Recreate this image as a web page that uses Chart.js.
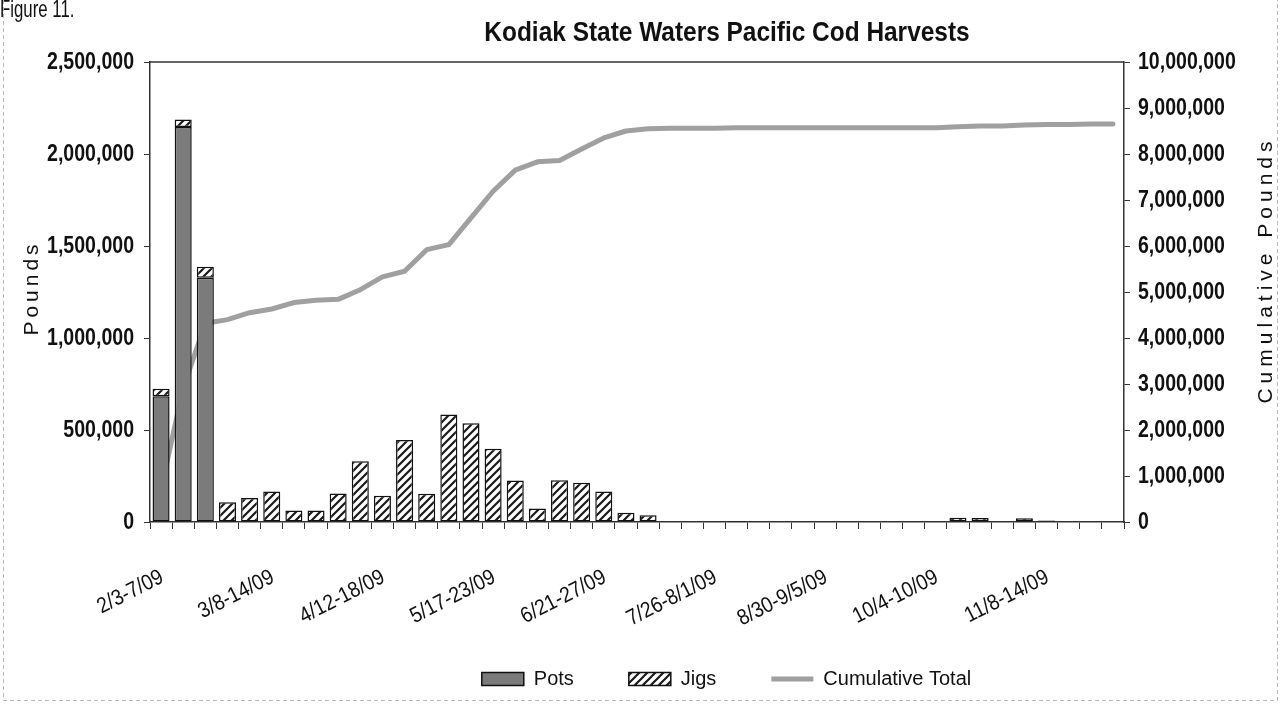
<!DOCTYPE html>
<html>
<head>
<meta charset="utf-8">
<title>Kodiak State Waters Pacific Cod Harvests</title>
<script src="https://cdn.jsdelivr.net/npm/chart.js@4.4.1/dist/chart.umd.min.js"></script>
<style>
  html, body { margin: 0; padding: 0; background: #fff; }
  #wrap { width: 1283px; height: 704px; }
</style>
</head>
<body>
<div id="wrap"><canvas id="harvest" width="1283" height="704"></canvas></div>
<script>
const weeks = [
  "2/3-7/09", "2/8-14/09", "2/15-21/09", "2/22-28/09", "3/1-7/09",
  "3/8-14/09", "3/15-21/09", "3/22-28/09", "3/29-4/4/09", "4/5-11/09",
  "4/12-18/09", "4/19-25/09", "4/26-5/2/09", "5/3-9/09", "5/10-16/09",
  "5/17-23/09", "5/24-30/09", "5/31-6/6/09", "6/7-13/09", "6/14-20/09",
  "6/21-27/09", "6/28-7/4/09", "7/5-11/09", "7/12-18/09", "7/19-25/09",
  "7/26-8/1/09", "8/2-8/09", "8/9-15/09", "8/16-22/09", "8/23-29/09",
  "8/30-9/5/09", "9/6-12/09", "9/13-19/09", "9/20-26/09", "9/27-10/3/09",
  "10/4-10/09", "10/11-17/09", "10/18-24/09", "10/25-31/09", "11/1-7/09",
  "11/8-14/09", "11/15-21/09", "11/22-28/09", "11/29-12/5/09"
];

const pots = [
  684000, 2147000, 1327000, 0, 0, 0, 0, 0, 0, 0,
  0, 0, 0, 0, 0, 0, 0, 0, 0, 0,
  0, 0, 0, 0, 0, 0, 0, 0, 0, 0,
  0, 0, 0, 0, 0, 0, 0, 0, 0, 0,
  0, 0, 0, 0
];

const jigs = [
  40000, 40000, 60000, 108000, 131000, 166000, 62000, 62000, 155000, 330000,
  142000, 445000, 153000, 584000, 537000, 398000, 225000, 73000, 227000, 213000,
  166000, 50000, 37000, 0, 0, 0, 6000, 0, 0, 0,
  0, 0, 0, 0, 0, 0, 23000, 22000, 0, 20000,
  8000, 0, 0, 0
];

const cumulative = [
  720000, 2910000, 4320000, 4400000, 4550000, 4630000, 4770000, 4820000, 4840000, 5050000,
  5330000, 5450000, 5920000, 6030000, 6610000, 7190000, 7650000, 7830000, 7860000, 8110000,
  8350000, 8500000, 8550000, 8560000, 8560000, 8560000, 8570000, 8570000, 8570000, 8570000,
  8570000, 8570000, 8570000, 8570000, 8570000, 8570000, 8590000, 8610000, 8610000, 8630000,
  8640000, 8640000, 8650000, 8650000
];

const chartTitle = "Kodiak State Waters Pacific Cod Harvests";
const FONT = '"Liberation Sans Narrow", "Arial Narrow", "Liberation Sans", Arial, sans-serif';

const canvas = document.getElementById("harvest");
const ctx = canvas.getContext("2d");

// diagonal hatch for the jig bars
function makeHatch() {
  const c = document.createElement("canvas");
  c.width = 8; c.height = 8;
  const g = c.getContext("2d");
  g.fillStyle = "#fff";
  g.fillRect(0, 0, 8, 8);
  g.strokeStyle = "#1a1a1a";
  g.lineWidth = 2.2;
  g.beginPath();
  g.moveTo(-1, 9); g.lineTo(9, -1);
  g.moveTo(-1, 1); g.lineTo(1, -1);
  g.moveTo(7, 9); g.lineTo(9, 7);
  g.stroke();
  return ctx.createPattern(c, "repeat");
}
const hatch = makeHatch();

const fmt = v => Number(v).toLocaleString("en-US");

// condensed text drawn by hand (no narrow face installed)
function narrowText(ctx, text, x, y, sx, angle) {
  ctx.save();
  ctx.translate(x, y);
  if (angle) ctx.rotate(angle);
  ctx.scale(sx, 1);
  ctx.fillText(text, 0, 0);
  ctx.restore();
}

const extras = {
  id: "extras",
  afterLayout(chart) {
    // legend sits right of centre in the original
    chart.legend.left += 85;
    chart.legend.right += 85;
  },
  afterDraw(chart) {
    const {ctx, chartArea} = chart;
    ctx.save();
    ctx.strokeStyle = "#333";
    ctx.lineWidth = 1.5;
    ctx.beginPath();
    ctx.moveTo(chartArea.left, chartArea.top);
    ctx.lineTo(chartArea.right, chartArea.top);
    ctx.stroke();

    ctx.fillStyle = "#111";

    // value labels of both y axes, tall and narrow like the original
    ctx.font = "bold 23px " + FONT;
    ctx.textBaseline = "middle";
    ["y", "y1"].forEach(id => {
      const s = chart.scales[id];
      const left = id === "y";
      ctx.textAlign = left ? "right" : "left";
      const x = left ? s.right - 16 : s.left + 14;
      s.ticks.forEach((t, i) => narrowText(ctx, fmt(t.value), x, s.getPixelForTick(i) + 1, 0.85));
    });

    // every fifth week label, slanted
    const xs = chart.scales.x;
    ctx.font = "22px " + FONT;
    ctx.textAlign = "right";
    weeks.forEach((w, i) => {
      if (i % 5 !== 0) return;
      const px = xs.getPixelForTick(i);
      ctx.save();
      ctx.translate(px + 1, xs.top + 54);
      ctx.rotate(-27 * Math.PI / 180);
      ctx.scale(0.88, 1);
      ctx.fillText(w, 0, 0);
      ctx.restore();
    });

    ctx.textBaseline = "alphabetic";
    ctx.textAlign = "center";
    ctx.font = "bold 27px " + FONT;
    narrowText(ctx, chartTitle, 727, 41, 0.905);
    ctx.textAlign = "left";
    ctx.font = "24px " + FONT;
    narrowText(ctx, "Figure 11.", 0, 17, 0.7);

    // axis titles, both read bottom to top
    ctx.font = "21px " + FONT;
    ctx.textAlign = "center";
    ctx.textBaseline = "middle";
    ctx.save();
    ctx.letterSpacing = "4px";
    ctx.translate(32, 290);
    ctx.rotate(-Math.PI / 2);
    ctx.fillText("Pounds", 2, 0);
    ctx.restore();
    ctx.save();
    ctx.letterSpacing = "5px";
    ctx.translate(1266, 272);
    ctx.rotate(-Math.PI / 2);
    ctx.fillText("Cumulative Pounds", 2, 0);
    ctx.restore();

    // faint scan frame
    ctx.strokeStyle = "#bbb";
    ctx.lineWidth = 1;
    ctx.setLineDash([4, 3]);
    ctx.beginPath();
    ctx.moveTo(3.5, 0); ctx.lineTo(3.5, 700.5); ctx.lineTo(1277.5, 700.5); ctx.lineTo(1277.5, 0);
    ctx.stroke();
    ctx.restore();
  }
};

Chart.defaults.font.family = FONT;
Chart.defaults.color = "#111";

const chart = new Chart(ctx, {
  data: {
    labels: weeks,
    datasets: [{
      type: "bar",
      label: "Pots",
      data: pots,
      backgroundColor: "#7b7b7b",
      borderColor: "#111",
      borderWidth: 1.5,
      borderSkipped: false,
      barPercentage: 0.77,
      categoryPercentage: 1,
      order: 1
    }, {
      type: "bar",
      label: "Jigs",
      data: jigs,
      backgroundColor: hatch,
      borderColor: "#111",
      borderWidth: 1.5,
      borderSkipped: false,
      barPercentage: 0.77,
      categoryPercentage: 1,
      order: 2
    }, {
      type: "line",
      label: "Cumulative Total",
      data: cumulative,
      yAxisID: "y1",
      borderColor: "#a0a0a0",
      borderWidth: 5,
      borderCapStyle: "round",
      borderJoinStyle: "round",
      pointRadius: 0,
      tension: 0,
      order: 3
    }]
  },
  options: {
    responsive: false,
    animation: false,
    layout: { padding: { top: 62, bottom: 5, left: 0, right: 0 } },
    plugins: {
      tooltip: { enabled: false },
      legend: {
        position: "bottom",
        labels: {
          usePointStyle: true,
          pointStyleWidth: 42,
          boxHeight: 13,
          padding: 55,
          color: "#111",
          font: { size: 20 },
          generateLabels(chart) {
            const items = Chart.defaults.plugins.legend.labels.generateLabels(chart);
            items.forEach(it => {
              const ds = chart.data.datasets[it.datasetIndex];
              if (ds.type === "line") {
                it.pointStyle = "line";
                it.lineWidth = 5;
                it.strokeStyle = ds.borderColor;
              } else {
                it.pointStyle = "rect";
                it.lineWidth = 1.5;
                it.strokeStyle = "#111";
                it.fillStyle = ds.backgroundColor;
              }
            });
            return items;
          }
        }
      }
    },
    scales: {
      x: {
        stacked: true,
        offset: true,
        grid: { drawOnChartArea: false, tickLength: 7, offset: true, color: "#333" },
        border: { color: "#333", width: 1.5 },
        ticks: { autoSkip: false, display: false },
        afterFit(s) { s.height = 92; }
      },
      y: {
        position: "left",
        stacked: true,
        min: 0,
        max: 2500000,
        grid: { drawOnChartArea: false, tickLength: 6, color: "#333" },
        border: { color: "#333", width: 1.5 },
        ticks: { stepSize: 500000, display: false },
        afterFit(s) { s.width = 150; }
      },
      y1: {
        position: "right",
        min: 0,
        max: 10000000,
        grid: { drawOnChartArea: false, tickLength: 6, color: "#333" },
        border: { color: "#333", width: 1.5 },
        ticks: { stepSize: 1000000, display: false },
        afterFit(s) { s.width = 159; }
      }
    }
  },
  plugins: [extras]
});
</script>
</body>
</html>
